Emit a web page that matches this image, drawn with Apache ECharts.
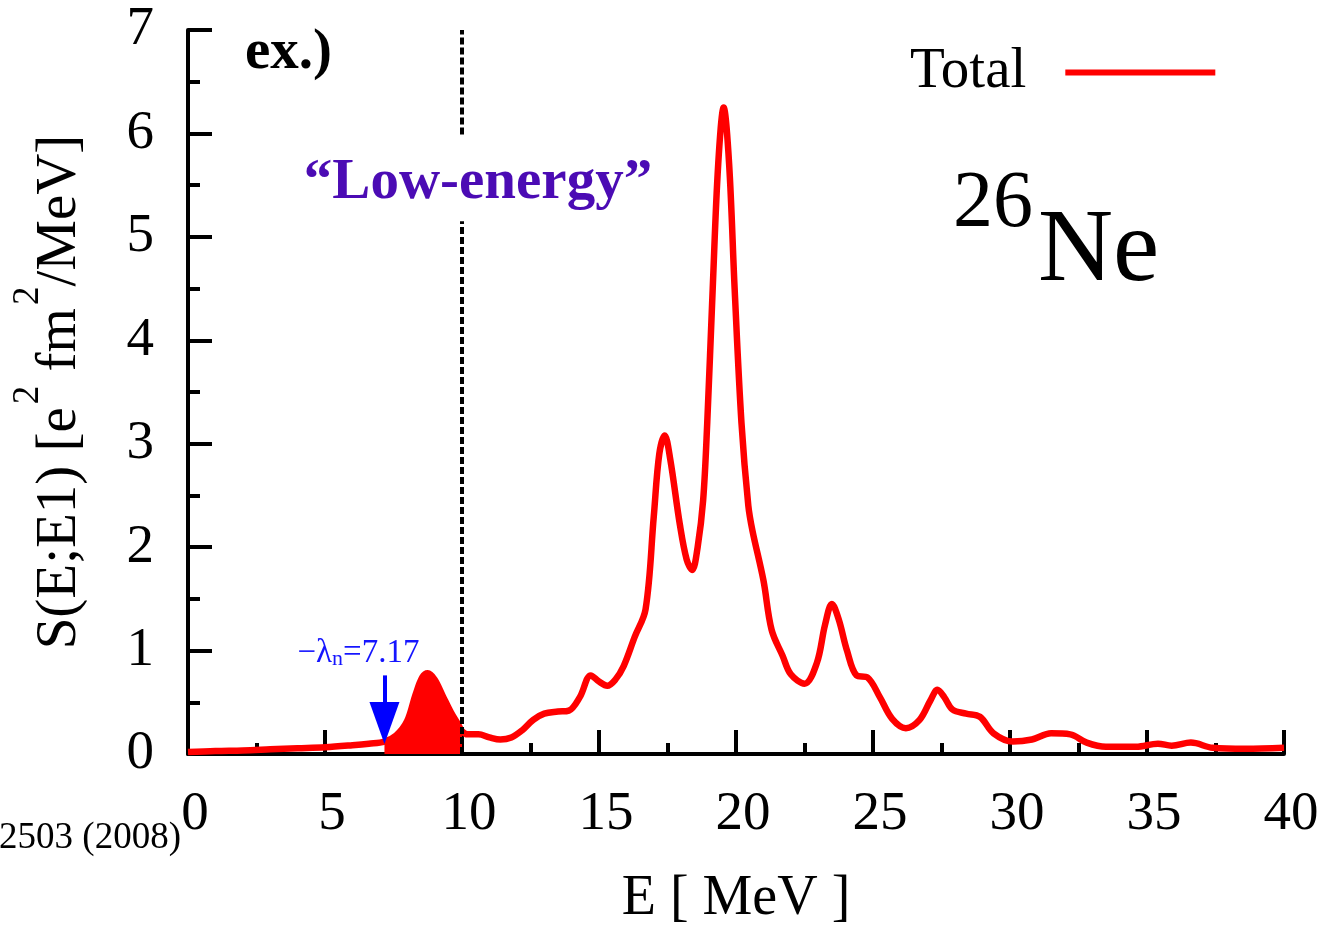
<!DOCTYPE html>
<html>
<head>
<meta charset="utf-8">
<script src="https://cdn.jsdelivr.net/npm/echarts@6/dist/echarts.min.js"></script>
<style>
  html, body { margin: 0; padding: 0; background: #ffffff; }
  #chart { width: 1322px; height: 932px; }
</style>
</head>
<body>
<div id="chart"></div>
<script>
// E1 strength function of 26Ne: excitation energy (MeV) and S(E;E1) (e^2 fm^2 / MeV)
const energy = [
  0, 1, 2, 3, 4, 5, 6, 6.6, 7.17, 7.6, 8.0, 8.3, 8.55, 8.75, 9.0, 9.3, 9.6, 9.85, 10,
  10.2, 10.6, 11.0, 11.4, 11.8, 12.2, 12.6, 13.0, 13.5, 13.9, 14.3, 14.7, 15.0, 15.3,
  15.6, 15.9, 16.3, 16.7, 17.0, 17.2, 17.4, 17.6, 17.95, 18.2, 18.4, 18.6, 18.8, 18.95,
  19.15, 19.35, 19.55, 19.75, 19.95, 20.2, 20.45, 20.6, 21.0, 21.3, 21.7, 22.0, 22.5,
  22.95, 23.25, 23.5, 23.75, 24.05, 24.4, 24.8, 25.25, 25.7, 26.2, 26.7, 27.1, 27.35,
  27.6, 27.9, 28.4, 28.9, 29.4, 30.1, 30.8, 31.5, 32.2, 32.8, 33.5, 34.6, 35.4, 35.9,
  36.6, 37.4, 38.6, 40
];
const strength = [
  0.02, 0.03, 0.035, 0.045, 0.055, 0.065, 0.085, 0.1, 0.12, 0.18, 0.32, 0.57, 0.74, 0.78, 0.72, 0.56, 0.40, 0.29, 0.22,
  0.19, 0.19, 0.16, 0.14, 0.16, 0.23, 0.33, 0.39, 0.41, 0.42, 0.55, 0.76, 0.70, 0.66,
  0.72, 0.85, 1.13, 1.40, 2.3, 2.9, 3.08, 2.85, 2.22, 1.88, 1.78, 2.0, 2.45, 3.2,
  4.5, 5.7, 6.25, 5.7, 4.5, 3.2, 2.4, 2.16, 1.68, 1.2, 0.95, 0.77, 0.68,
  0.88, 1.25, 1.45, 1.3, 1.0, 0.76, 0.74, 0.55, 0.34, 0.25, 0.33, 0.52, 0.62,
  0.55, 0.43, 0.39, 0.36, 0.2, 0.12, 0.14, 0.2, 0.19, 0.11, 0.07, 0.07, 0.1, 0.08,
  0.11, 0.06, 0.05, 0.06
];

// neutron separation energy and the upper edge of the "low-energy" region
const neutronThreshold = 7.17;
const lowEnergyLimit = 10;

const seriesName = 'Total';
const serif = '"Liberation Serif", "Times New Roman", serif';

const points = energy.map((e, i) => [e, strength[i]]);
const lowEnergyPoints = points.filter(p => p[0] >= neutronThreshold && p[0] <= lowEnergyLimit);

const chart = echarts.init(document.getElementById('chart'), null, { renderer: 'canvas' });

chart.setOption({
  animation: false,
  backgroundColor: '#ffffff',
  grid: { left: 188, right: 38, top: 30, bottom: 175, containLabel: false },
  legend: {
    data: [seriesName],
    left: 905,
    top: 39,
    icon: 'rect',
    itemWidth: 150,
    itemHeight: 6,
    align: 'right',
    selectedMode: false,
    textStyle: { fontFamily: serif, fontSize: 57, color: '#000', padding: [0, 34, 0, 0] }
  },
  xAxis: {
    type: 'value',
    min: 0,
    max: 40,
    interval: 5,
    name: 'E [ MeV ]',
    nameLocation: 'middle',
    nameGap: 117,
    nameTextStyle: { fontFamily: serif, fontSize: 56, color: '#000' },
    axisLine: { show: true, onZero: false, lineStyle: { color: '#000', width: 4 } },
    axisTick: { show: true, inside: true, length: 24, lineStyle: { color: '#000', width: 4 } },
    minorTick: { show: true, splitNumber: 2, length: 11, lineStyle: { color: '#000', width: 4 } },
    axisLabel: { fontFamily: serif, fontSize: 55, color: '#000', margin: 33, padding: [0, 0, 0, 14] },
    splitLine: { show: false }
  },
  yAxis: {
    type: 'value',
    min: 0,
    max: 7,
    interval: 1,
    name: '{b|S(E;E1) [e}{sup|2}{b| fm}{sup|2}{b|/MeV]}',
    nameLocation: 'middle',
    nameRotate: 90,
    nameGap: 78,
    nameTextStyle: {
      fontFamily: serif,
      fontSize: 57,
      color: '#000',
      rich: {
        b: { fontFamily: serif, fontSize: 57, color: '#000', lineHeight: 100 },
        sup: { fontFamily: serif, fontSize: 37, color: '#000', lineHeight: 36, verticalAlign: 'top', padding: [0, 0, 0, 3] }
      }
    },
    axisLine: { show: true, lineStyle: { color: '#000', width: 4 } },
    axisTick: { show: true, inside: true, length: 24, lineStyle: { color: '#000', width: 4 } },
    minorTick: { show: true, splitNumber: 2, length: 12, lineStyle: { color: '#000', width: 4 } },
    axisLabel: { fontFamily: serif, fontSize: 55, color: '#000', margin: 34 },
    splitLine: { show: false }
  },
  series: [
    {
      // shaded strength between the neutron threshold and 10 MeV
      name: 'lowEnergyArea',
      type: 'line',
      data: lowEnergyPoints,
      smooth: 0.35,
      showSymbol: false,
      silent: true,
      z: 2,
      lineStyle: { width: 0 },
      areaStyle: { color: '#ff0000', opacity: 1 }
    },
    {
      name: seriesName,
      type: 'line',
      data: points,
      smooth: 0.35,
      showSymbol: false,
      silent: true,
      z: 3,
      color: '#ff0000',
      lineStyle: { color: '#ff0000', width: 6.5 }
    },
    {
      // dashed boundary of the low-energy region, interrupted by its caption
      name: 'lowEnergyBoundary',
      type: 'line',
      data: [],
      z: 4,
      markLine: {
        silent: true,
        symbol: ['none', 'none'],
        label: { show: false },
        lineStyle: { color: '#000', width: 4, type: [7, 3] },
        data: [
          [{ coord: [lowEnergyLimit, 0] }, { coord: [lowEnergyLimit, 5.15] }],
          [{ coord: [lowEnergyLimit, 5.99] }, { coord: [lowEnergyLimit, 7] }]
        ]
      }
    },
    {
      // arrow marking the neutron separation energy
      name: 'neutronThreshold',
      type: 'line',
      data: [],
      z: 5,
      markLine: {
        silent: true,
        symbol: ['none', 'none'],
        lineStyle: { color: '#0000ff', width: 4, type: 'solid' },
        label: {
          show: true,
          position: 'start',
          distance: 5,
          padding: [0, 52, 0, 0],
          formatter: '{b|\u2212\u03bb}{sub|n}{b|=' + neutronThreshold.toFixed(2) + '}',
          rich: {
            b: { fontFamily: serif, fontSize: 33, color: '#1515ff', lineHeight: 34 },
            sub: { fontFamily: serif, fontSize: 22, color: '#1515ff', lineHeight: 14, verticalAlign: 'bottom' }
          }
        },
        data: [
          [
            { coord: [neutronThreshold, 0.76], symbol: 'none' },
            { coord: [neutronThreshold, 0.30], symbol: 'triangle', symbolSize: [30, 42] }
          ]
        ]
      }
    }
  ],
  graphic: [
    {
      type: 'text', silent: true,
      style: { x: 245, y: 53, text: 'ex.)', font: 'bold 57px ' + serif, fill: '#000', textAlign: 'left', textVerticalAlign: 'middle', align: 'left', verticalAlign: 'middle' }
    },
    {
      type: 'text', silent: true,
      style: { x: 478, y: 183, text: '\u201cLow-energy\u201d', font: 'bold 57px ' + serif, fill: '#4b0bb4', textAlign: 'center', textVerticalAlign: 'middle', align: 'center', verticalAlign: 'middle' }
    },
    {
      type: 'text', silent: true,
      style: { x: 953, y: 205, text: '26', font: '80px ' + serif, fill: '#000', textAlign: 'left', textVerticalAlign: 'middle', align: 'left', verticalAlign: 'middle' }
    },
    {
      type: 'text', silent: true,
      style: { x: 1038, y: 253, text: 'Ne', font: '104px ' + serif, fill: '#000', textAlign: 'left', textVerticalAlign: 'middle', align: 'left', verticalAlign: 'middle' }
    },
    {
      type: 'text', silent: true,
      style: { x: 181, y: 838, text: '2503 (2008)', font: '37px ' + serif, fill: '#000', textAlign: 'right', textVerticalAlign: 'middle', align: 'right', verticalAlign: 'middle' }
    }
  ]
});
</script>
</body>
</html>
